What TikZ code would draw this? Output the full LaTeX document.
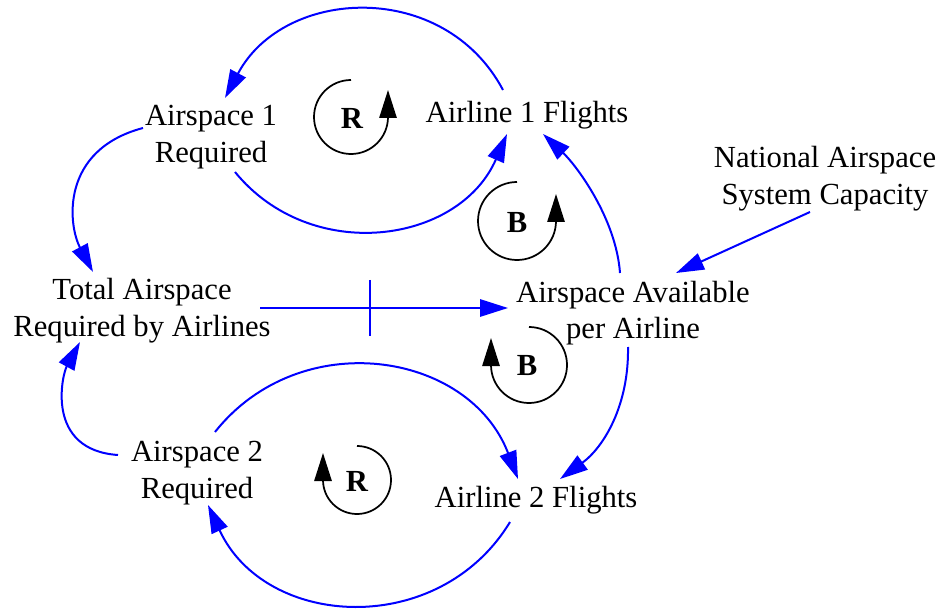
\documentclass[tikz,border=0pt]{standalone}
\usepackage{fontspec}
\setmainfont{Liberation Serif}
\usetikzlibrary{arrows.meta}
\begin{document}
\begin{tikzpicture}[x=0.75pt,y=-0.75pt,
  lbl/.style={font=\fontsize{23}{27.5}\selectfont, align=center, inner sep=0pt},
  looplbl/.style={font=\fontsize{23}{27.5}\selectfont\bfseries, inner sep=0pt},
  link/.style={draw=blue, line width=1.5pt, -{Triangle[length=21pt,width=13pt]}},
  delaymark/.style={draw=blue, line width=1.5pt},
  loopsym/.style={draw=black, line width=1.3pt, -{Triangle[length=21pt,width=13pt]}}]
\useasboundingbox (0,0) rectangle (941,609);

% variables
\node[lbl] (a1req) at (211,137) {Airspace 1\\Required};
\node[lbl] (f1)    at (527,115) {Airline 1 Flights};
\node[lbl] (nas)   at (825,179) {National Airspace\\System Capacity};
\node[lbl] (total) at (142,311) {Total Airspace\\Required by Airlines};
\node[lbl] (avail) at (633,313) {Airspace Available\\per Airline};
\node[lbl] (a2req) at (197,473) {Airspace 2\\Required};
\node[lbl] (f2)    at (536,500) {Airline 2 Flights};

% attachment points of the links
\coordinate (f1-top)    at (503,90);
\coordinate (a1-top)    at (225,98);
\coordinate (a1-bot)    at (235,172);
\coordinate (f1-low)    at (507,134);
\coordinate (a1-left)   at (143,128);
\coordinate (tot-top)   at (93,272);
\coordinate (a2-left)   at (118,455);
\coordinate (tot-bot)   at (80,342);
\coordinate (tot-right) at (260,308);
\coordinate (av-left)   at (508,308);
\coordinate (delay)     at (370,308);
\coordinate (nas-bot)   at (810,212);
\coordinate (av-top)    at (676,273);
\coordinate (av-up)     at (620,273);
\coordinate (f1-right)  at (543,134);
\coordinate (av-down)   at (628,347);
\coordinate (f2-right)  at (560,479);
\coordinate (a2-top)    at (215,432);
\coordinate (f2-left)   at (518,479);
\coordinate (f2-bot)    at (510,522);
\coordinate (a2-bot)    at (208,505);

% causal links
\draw[link] (f1-top) .. controls (444,-21) and (284,-13) .. (a1-top);
\draw[link] (a1-bot) .. controls (311,265) and (459,244) .. (f1-low);
\draw[link] (a1-left) .. controls (60,150) and (68,225) .. (tot-top);
\draw[link] (a2-left) .. controls (45,450) and (62,375) .. (tot-bot);
\draw[link] (tot-right) -- (av-left);
\draw[delaymark] (delay) ++(0,-28) -- ++(0,56);
\draw[link] (nas-bot) -- (av-top);
\draw[link] (av-up) .. controls (616,218) and (576,165) .. (f1-right);
\draw[link] (av-down) .. controls (629,405) and (604,447) .. (f2-right);
\draw[link] (a2-top) .. controls (300,325) and (469,351) .. (f2-left);
\draw[link] (f2-bot) .. controls (439,639) and (265,629) .. (a2-bot);

% loop markers
\draw[loopsym] (351,80) arc[start angle=-90, end angle=-360, radius=37] -- ++(0,-27);
\node[looplbl] (r1) at (352,118) {R};
\draw[loopsym] (517,182) arc[start angle=-90, end angle=-360, radius=39] -- ++(0,-27);
\node[looplbl] (b1) at (517,223) {B};
\draw[loopsym] (529,327) arc[start angle=-90, end angle=180, radius=38] -- ++(0,-27);
\node[looplbl] (b2) at (527,366) {B};
\draw[loopsym] (357,446) arc[start angle=-90, end angle=180, radius=34] -- ++(0,-27);
\node[looplbl] (r2) at (357,481) {R};
\end{tikzpicture}
\end{document}
